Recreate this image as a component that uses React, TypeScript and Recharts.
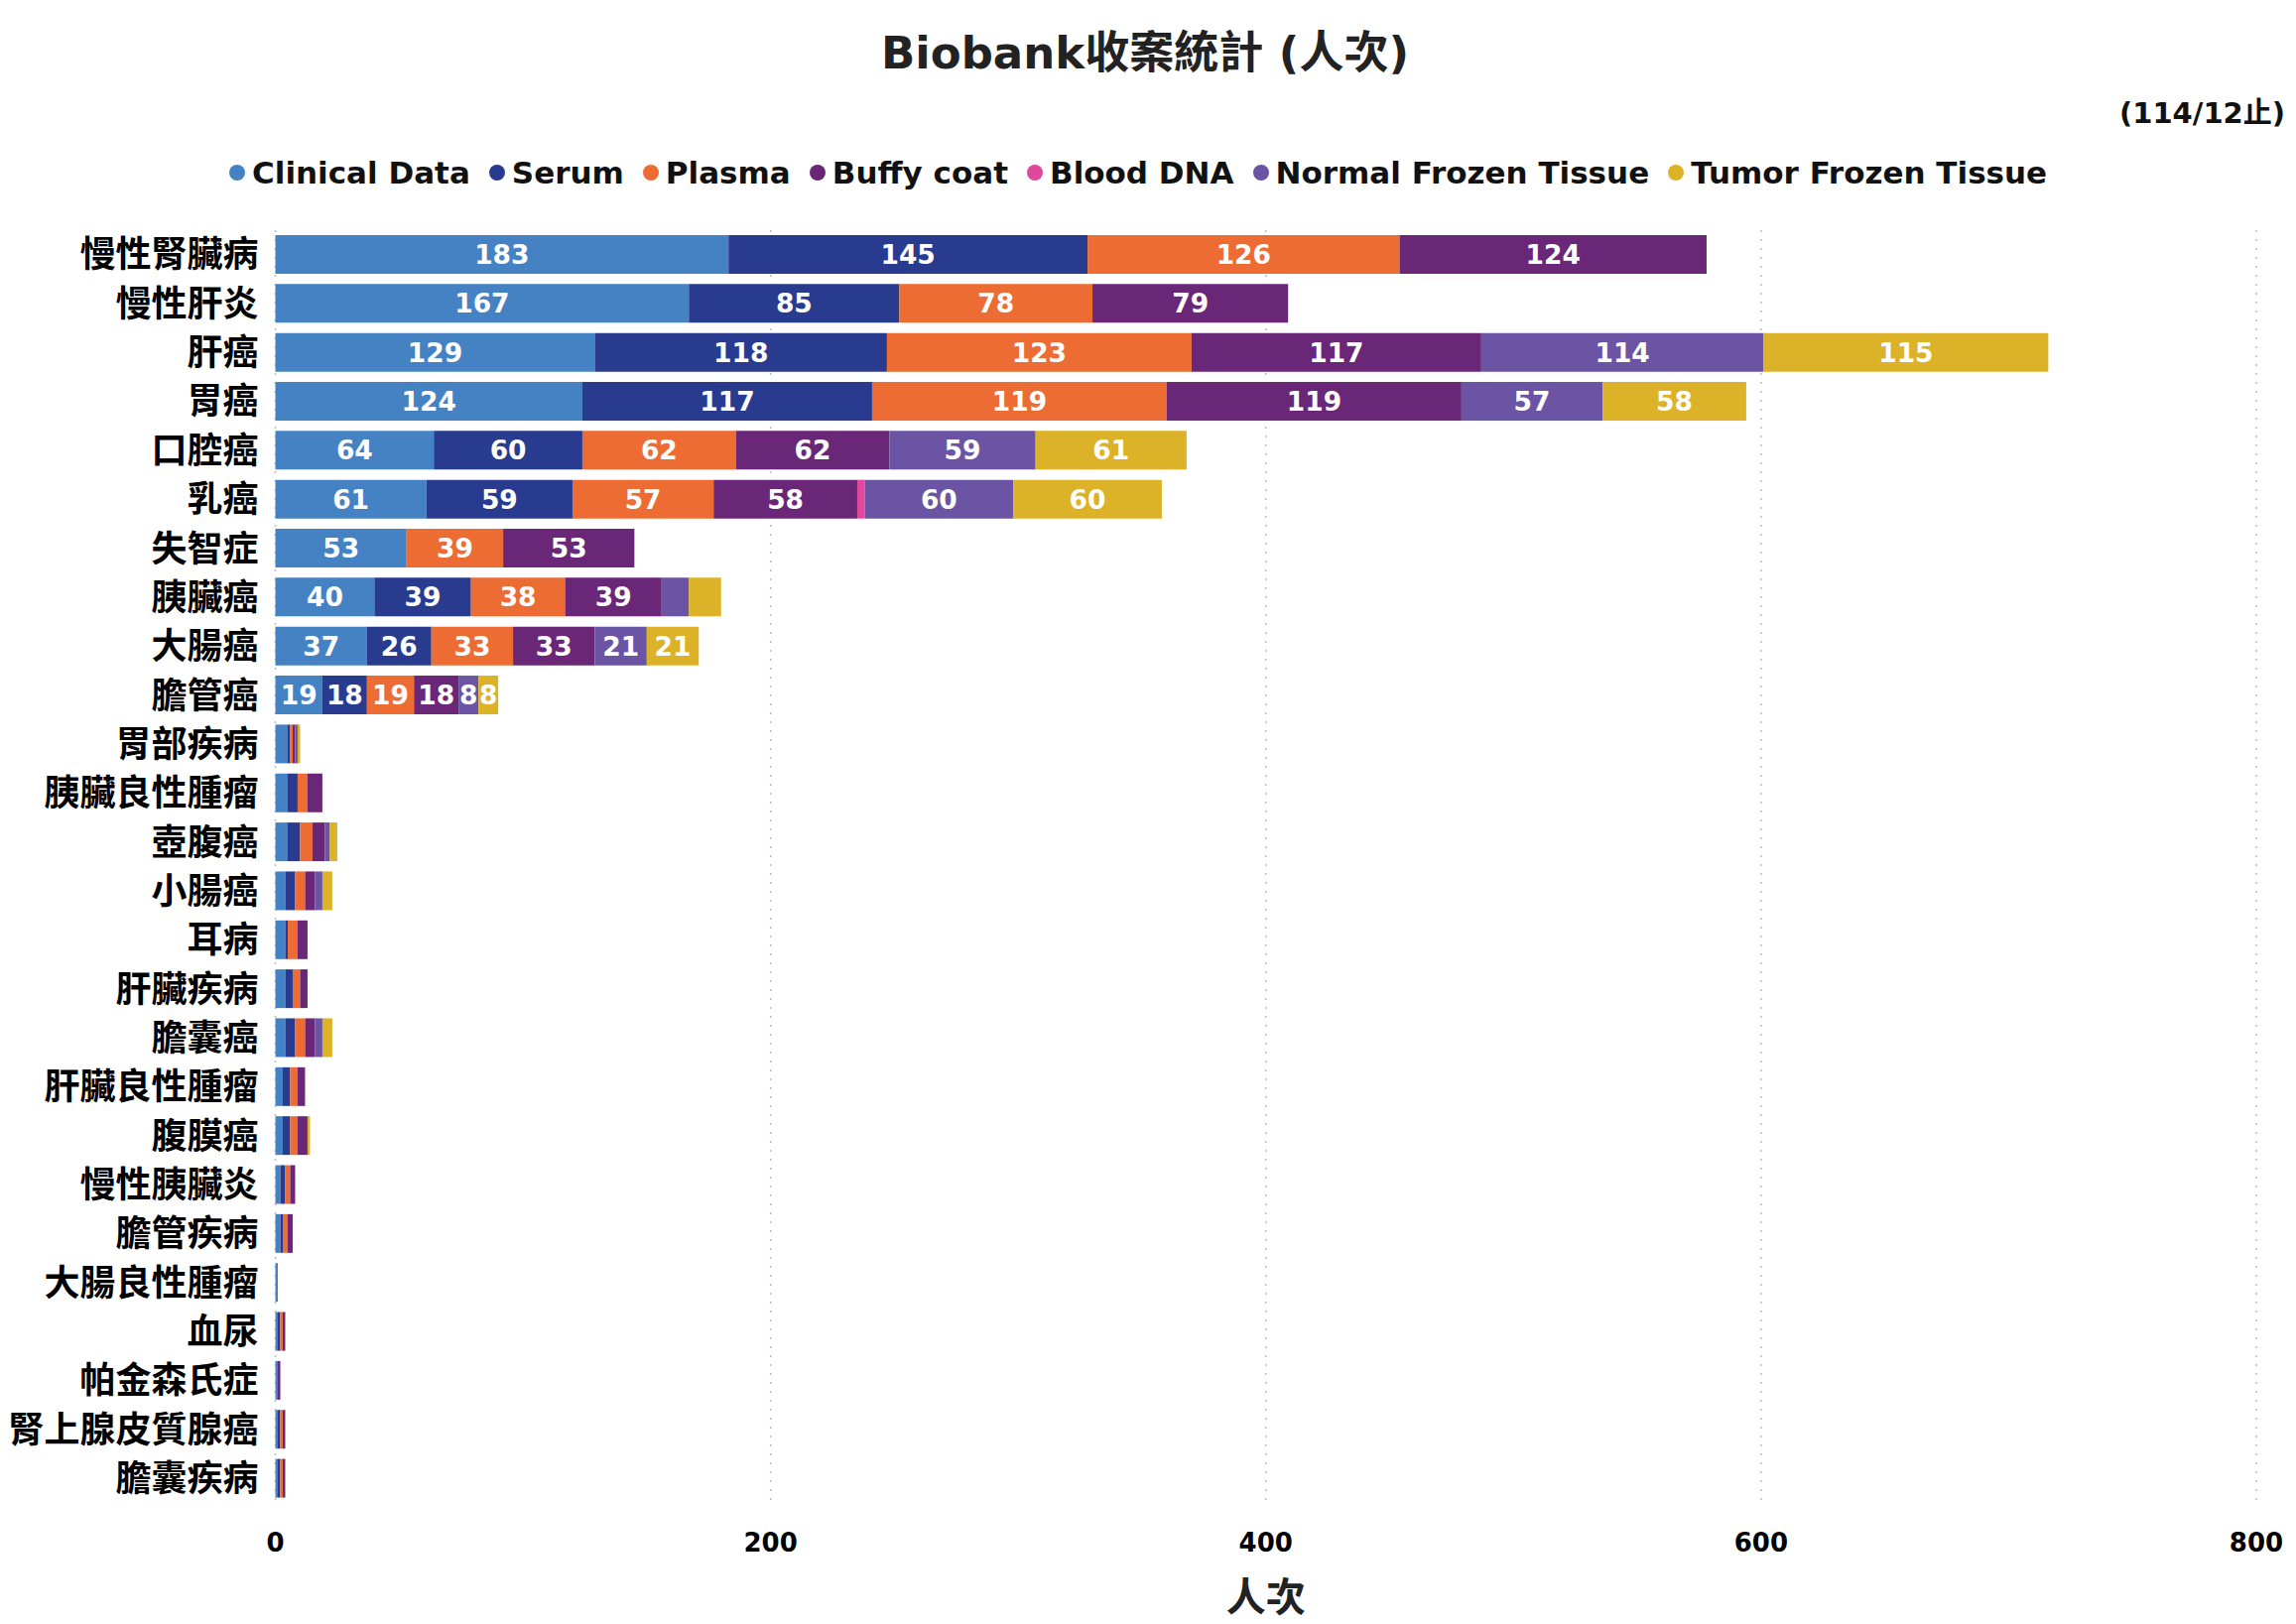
import React from 'react';
import { BarChart, Bar, XAxis, YAxis, CartesianGrid, Legend, LabelList } from 'recharts';

const categories = [
  '慢性腎臟病', '慢性肝炎', '肝癌', '胃癌', '口腔癌', '乳癌', '失智症', '胰臟癌', '大腸癌', '膽管癌',
  '胃部疾病', '胰臟良性腫瘤', '壺腹癌', '小腸癌', '耳病', '肝臟疾病', '膽囊癌', '肝臟良性腫瘤', '腹膜癌',
  '慢性胰臟炎', '膽管疾病', '大腸良性腫瘤', '血尿', '帕金森氏症', '腎上腺皮質腺癌', '膽囊疾病',
];

const clinicalData = [183, 167, 129, 124, 64, 61, 53, 40, 37, 19, 5, 5, 5, 4, 4, 4, 4, 3, 3, 2, 2, 1, 1, 1, 1, 1];
const serum = [145, 85, 118, 117, 60, 59, 0, 39, 26, 18, 1, 4, 5, 4, 1, 3, 4, 3, 3, 2, 1, 0, 1, 0, 1, 1];
const plasma = [126, 78, 123, 119, 62, 57, 39, 38, 33, 19, 1, 4, 5, 4, 4, 3, 4, 3, 3, 2, 2, 0, 1, 0, 1, 1];
const buffyCoat = [124, 79, 117, 119, 62, 58, 53, 39, 33, 18, 1, 6, 5, 4, 4, 3, 4, 3, 4, 2, 2, 0, 1, 1, 1, 1];
const bloodDNA = [0, 0, 0, 0, 0, 3, 0, 0, 0, 0, 0, 0, 0, 0, 0, 0, 0, 0, 0, 0, 0, 0, 0, 0, 0, 0];
const normalFrozenTissue = [0, 0, 114, 57, 59, 60, 0, 11, 21, 8, 1, 0, 2, 3, 0, 0, 3, 0, 0, 0, 0, 0, 0, 0, 0, 0];
const tumorFrozenTissue = [0, 0, 115, 58, 61, 60, 0, 13, 21, 8, 1, 0, 3, 4, 0, 0, 4, 0, 1, 0, 0, 0, 0, 0, 0, 0];

const xTicks = [0, 200, 400, 600, 800];

const seriesNames = ['Clinical Data', 'Serum', 'Plasma', 'Buffy coat', 'Blood DNA', 'Normal Frozen Tissue', 'Tumor Frozen Tissue'];
const seriesKeys = ['clinical', 'serum', 'plasma', 'buffy', 'dna', 'normal', 'tumor'];
const seriesColors = ['#4582C4', '#293B8F', '#EC6C34', '#6A2778', '#E0489B', '#6B54A3', '#DBB228'];
const seriesValues = [clinicalData, serum, plasma, buffyCoat, bloodDNA, normalFrozenTissue, tumorFrozenTissue];

// value labels are printed only on the larger rows (not on the Blood DNA sliver, nor two small 胰臟癌 segments)
const labeledCategories = categories.slice(0, 10);
const unlabeledCells = [['乳癌', 'dna'], ['胰臟癌', 'normal'], ['胰臟癌', 'tumor']];

const data = categories.map((name, i) => {
  const row: Record<string, string | number | null> = { name };
  seriesKeys.forEach((k, s) => {
    const v = seriesValues[s][i];
    row[k] = v;
    const shown =
      v > 0 && labeledCategories.includes(name) && !unlabeledCells.some(([c, kk]) => c === name && kk === k);
    row[k + 'Label'] = shown ? v : null;
  });
  return row;
});

const LATIN = '"DejaVu Sans", "Noto Sans CJK TC", sans-serif';
const CJK = '"Noto Sans CJK TC", "DejaVu Sans", sans-serif';

const W = 2298;
const H = 1629;

const renderLegend = () => (
  <div
    style={{
      height: 116,
      display: 'flex',
      alignItems: 'center',
      paddingLeft: 223,
      boxSizing: 'border-box',
      fontFamily: LATIN,
      fontWeight: 700,
      fontSize: 31,
      color: '#111',
      whiteSpace: 'nowrap',
    }}
  >
    {seriesNames.map((n, i) => (
      <span key={n} style={{ display: 'inline-flex', alignItems: 'center', marginRight: 19 }}>
        <span
          style={{
            display: 'inline-block',
            width: 16,
            height: 16,
            borderRadius: '50%',
            background: seriesColors[i],
            marginRight: 7,
          }}
        />
        {n}
      </span>
    ))}
  </div>
);

const renderValueLabel = (props: any) => {
  const { x, y, width, height, value } = props;
  if (value === null || value === undefined || value === '') return null;
  return (
    <text
      x={Number(x) + Number(width) / 2}
      y={Number(y) + Number(height) / 2}
      textAnchor="middle"
      dominantBaseline="central"
      fill="#fff"
      fontFamily={LATIN}
      fontWeight={700}
      fontSize={26.5}
    >
      {value}
    </text>
  );
};

export default function App() {
  return (
    <div style={{ position: 'relative', width: W, height: H, background: '#fff' }}>
      <BarChart
        width={W}
        height={H}
        data={data}
        layout="vertical"
        margin={{ top: 108, right: 32, left: 0, bottom: 0 }}
        barCategoryGap="10%"
      >
        <CartesianGrid horizontal={false} vertical={true} stroke="#bdbdbd" strokeDasharray="2 7" strokeWidth={1.5} />
        <Legend verticalAlign="top" align="left" height={116} content={renderLegend} />
        <XAxis
          type="number"
          domain={[0, 800]}
          ticks={xTicks}
          axisLine={false}
          tickLine={false}
          tickMargin={25}
          height={122}
          tick={{ fontFamily: LATIN, fontWeight: 700, fontSize: 26, fill: '#000' }}
          label={{
            value: '人次',
            position: 'insideBottom',
            offset: 13,
            style: { fontFamily: CJK, fontWeight: 700, fontSize: 40, fill: '#222' },
          }}
        />
        <YAxis
          type="category"
          dataKey="name"
          width={269.5}
          axisLine={false}
          tickLine={false}
          tickMargin={11}
          interval={0}
          tick={{ fontFamily: CJK, fontWeight: 700, fontSize: 36, fill: '#000' }}
        />
        {seriesKeys.map((k, s) => (
          <Bar key={k} dataKey={k} name={seriesNames[s]} stackId="a" fill={seriesColors[s]} isAnimationActive={false}>
            <LabelList dataKey={k + 'Label'} content={renderValueLabel} />
          </Bar>
        ))}
      </BarChart>
      <div
        style={{
          position: 'absolute',
          left: 0,
          width: 2292,
          top: 45,
          transform: 'translateY(-50%)',
          textAlign: 'center',
          fontFamily: LATIN,
          fontWeight: 700,
          fontSize: 45,
          lineHeight: 1,
          color: '#222',
          whiteSpace: 'nowrap',
        }}
      >
        Biobank收案統計 (人次)
      </div>
      <div
        style={{
          position: 'absolute',
          right: 3,
          top: 106,
          transform: 'translateY(-50%)',
          fontFamily: LATIN,
          fontWeight: 700,
          fontSize: 29,
          lineHeight: 1,
          color: '#111',
          whiteSpace: 'nowrap',
        }}
      >
        (114/12止)
      </div>
    </div>
  );
}
